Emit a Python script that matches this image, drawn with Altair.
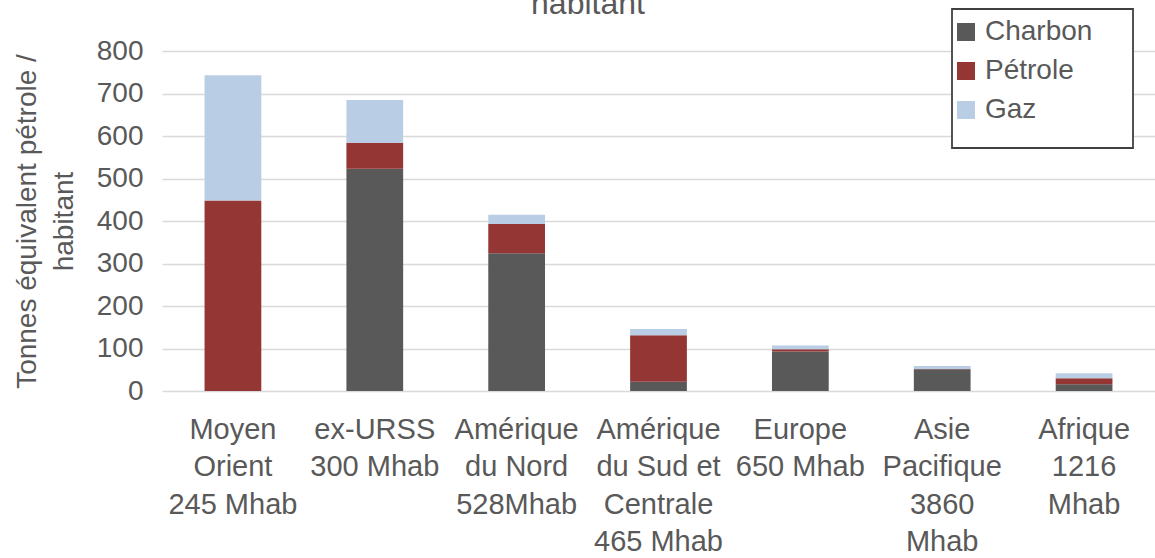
import altair as alt
import pandas as pd

# Regions (label lines separated by "|") and per-capita consumption by fuel
regions = [
    "Moyen|Orient|245 Mhab",
    "ex-URSS|300 Mhab",
    "Amérique|du Nord|528Mhab",
    "Amérique|du Sud et|Centrale|465 Mhab",
    "Europe|650 Mhab",
    "Asie|Pacifique|3860|Mhab",
    "Afrique|1216|Mhab",
]
charbon = [0, 523, 324, 22, 93, 51, 16]
petrole = [448, 61, 69, 109, 5, 1, 14]
gaz = [295, 101, 22, 15, 9, 7, 12]

fuels = ["Charbon", "Pétrole", "Gaz"]
colors = ["#595959", "#943634", "#B9CDE5"]

rows = []
for i, r in enumerate(regions):
    for k, (f, vals) in enumerate(zip(fuels, [charbon, petrole, gaz])):
        rows.append({"region": r, "fuel": f, "value": vals[i], "rank": k})
df = pd.DataFrame(rows)

FONT = "Liberation Sans"
GREY = "#595959"

bars = alt.Chart(df).mark_bar().encode(
    x=alt.X(
        "region:N",
        sort=regions,
        title=None,
        scale=alt.Scale(paddingInner=0.6, paddingOuter=0.3),
        axis=alt.Axis(
            labelExpr="split(datum.value, '|')",
            labelAngle=0,
            labelFontSize=29,
            labelLineHeight=37.5,
            labelColor=GREY,
            labelFont=FONT,
            labelBaseline="top",
            labelPadding=24,
            ticks=False,
            tickSize=0,
            domain=False,
            grid=False,
            labelOverlap=False,
        ),
    ),
    y=alt.Y(
        "value:Q",
        stack="zero",
        scale=alt.Scale(domain=[0, 800], nice=False),
        title=["Tonnes équivalent pétrole /", "habitant"],
        axis=alt.Axis(
            values=[0, 100, 200, 300, 400, 500, 600, 700, 800],
            labelFontSize=28,
            labelColor=GREY,
            labelFont=FONT,
            labelPadding=19,
            ticks=False,
            domain=False,
            grid=True,
            gridColor="#D9D9D9",
            gridWidth=1.5,
            titleFontSize=28,
            titleFont=FONT,
            titleFontWeight="normal",
            titleColor=GREY,
            titleLineHeight=37,
            titlePadding=18,
        ),
    ),
    color=alt.Color(
        "fuel:N",
        scale=alt.Scale(domain=fuels, range=colors),
        legend=alt.Legend(
            title=None,
            orient="none",
            legendX=790,
            legendY=-33,
            symbolType="square",
            symbolSize=324,
            symbolStrokeWidth=0,
            labelFontSize=28,
            labelFont=FONT,
            labelColor=GREY,
            labelOffset=5,
            rowPadding=11,
            padding=0,
        ),
    ),
    order=alt.Order("rank:Q", sort="ascending"),
)

# Legend frame
frame = alt.Chart(pd.DataFrame({"k": [0]})).mark_rect(
    fill="white", stroke="#404040", strokeWidth=1.8
).encode(
    x=alt.value(790), x2=alt.value(971), y=alt.value(-42), y2=alt.value(97)
)

# Chart title (second line)
title = alt.Chart(pd.DataFrame({"t": ["habitant"]})).mark_text(
    font=FONT, fontSize=32, color=GREY, align="center", baseline="alphabetic"
).encode(
    text="t:N", x=alt.value(426), y=alt.value(-37)
)

chart = alt.layer(bars, frame, title).properties(
    width=993,
    height=340,
    autosize=alt.AutoSizeParams(type="none"),
    padding={"left": 162, "top": 51, "right": 0, "bottom": 167},
    background="white",
).configure_view(stroke=None)

chart.save("out.html", embed_options={"renderer": "svg", "actions": False})
